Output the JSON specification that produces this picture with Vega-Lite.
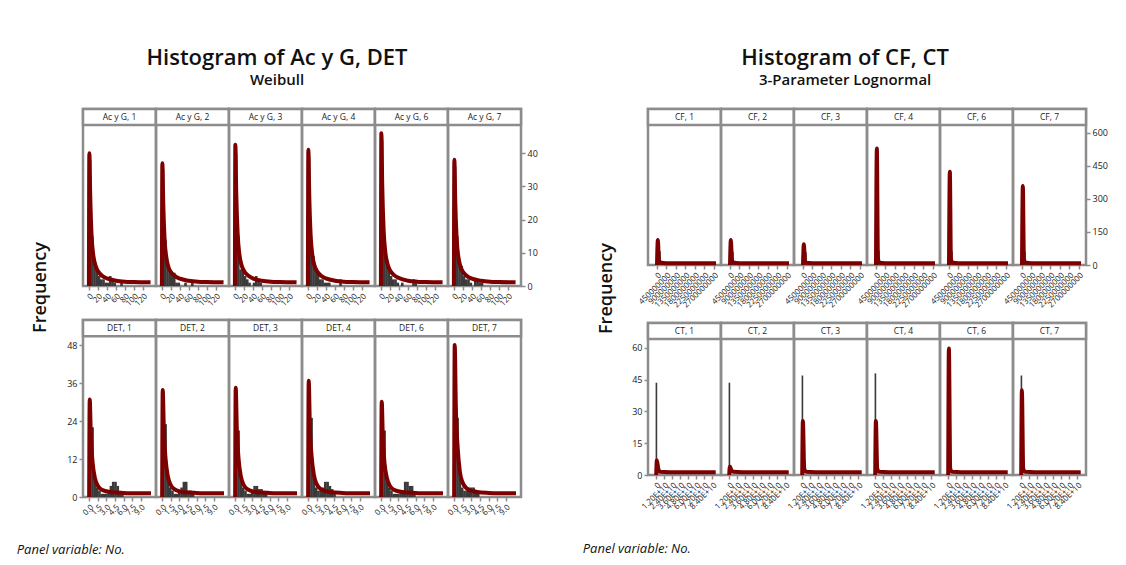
{
  "$schema": "https://vega.github.io/schema/vega-lite/v6.json",
  "padding": {"left": 16, "top": 46, "right": 0, "bottom": 0},
  "autosize": {"type": "pad"},
  "spacing": 44,
  "datasets": {
    "acyg": [
      {"p":"Ac y G, 1","t":"s"},
      {"p":"Ac y G, 1","t":"h","x":2.5,"n":38},{"p":"Ac y G, 1","t":"h","x":7.5,"n":15},{"p":"Ac y G, 1","t":"h","x":12.5,"n":7},{"p":"Ac y G, 1","t":"h","x":17.5,"n":6},{"p":"Ac y G, 1","t":"h","x":22.5,"n":3},{"p":"Ac y G, 1","t":"h","x":27.5,"n":2},{"p":"Ac y G, 1","t":"h","x":32.5,"n":2},{"p":"Ac y G, 1","t":"h","x":37.5,"n":1},{"p":"Ac y G, 1","t":"h","x":42.5,"n":1},{"p":"Ac y G, 1","t":"h","x":47.5,"n":3},{"p":"Ac y G, 1","t":"h","x":52.5,"n":2},{"p":"Ac y G, 1","t":"h","x":57.5,"n":1},{"p":"Ac y G, 1","t":"h","x":72.5,"n":1},
      {"p":"Ac y G, 1","t":"f","x":0,"n":0},{"p":"Ac y G, 1","t":"f","x":1,"n":40},{"p":"Ac y G, 1","t":"f","x":3,"n":27},{"p":"Ac y G, 1","t":"f","x":6,"n":15},{"p":"Ac y G, 1","t":"f","x":10,"n":9},{"p":"Ac y G, 1","t":"f","x":15,"n":6},{"p":"Ac y G, 1","t":"f","x":20,"n":4.5},{"p":"Ac y G, 1","t":"f","x":30,"n":3},{"p":"Ac y G, 1","t":"f","x":40,"n":2.3},{"p":"Ac y G, 1","t":"f","x":60,"n":1.6},{"p":"Ac y G, 1","t":"f","x":80,"n":1.3},{"p":"Ac y G, 1","t":"f","x":100,"n":1.2},{"p":"Ac y G, 1","t":"f","x":137,"n":1.1},
      {"p":"Ac y G, 2","t":"s"},
      {"p":"Ac y G, 2","t":"h","x":2.5,"n":35},{"p":"Ac y G, 2","t":"h","x":7.5,"n":14},{"p":"Ac y G, 2","t":"h","x":12.5,"n":6},{"p":"Ac y G, 2","t":"h","x":17.5,"n":4},{"p":"Ac y G, 2","t":"h","x":22.5,"n":4},{"p":"Ac y G, 2","t":"h","x":27.5,"n":4},{"p":"Ac y G, 2","t":"h","x":32.5,"n":1},{"p":"Ac y G, 2","t":"h","x":37.5,"n":1},{"p":"Ac y G, 2","t":"h","x":52.5,"n":1},{"p":"Ac y G, 2","t":"h","x":67.5,"n":1},
      {"p":"Ac y G, 2","t":"f","x":0,"n":0},{"p":"Ac y G, 2","t":"f","x":1,"n":37},{"p":"Ac y G, 2","t":"f","x":3,"n":25},{"p":"Ac y G, 2","t":"f","x":6,"n":14},{"p":"Ac y G, 2","t":"f","x":10,"n":8.5},{"p":"Ac y G, 2","t":"f","x":15,"n":5.5},{"p":"Ac y G, 2","t":"f","x":20,"n":4.2},{"p":"Ac y G, 2","t":"f","x":30,"n":2.9},{"p":"Ac y G, 2","t":"f","x":40,"n":2.2},{"p":"Ac y G, 2","t":"f","x":60,"n":1.6},{"p":"Ac y G, 2","t":"f","x":80,"n":1.3},{"p":"Ac y G, 2","t":"f","x":100,"n":1.2},{"p":"Ac y G, 2","t":"f","x":137,"n":1.1},
      {"p":"Ac y G, 3","t":"s"},
      {"p":"Ac y G, 3","t":"h","x":2.5,"n":40},{"p":"Ac y G, 3","t":"h","x":7.5,"n":15},{"p":"Ac y G, 3","t":"h","x":12.5,"n":5},{"p":"Ac y G, 3","t":"h","x":17.5,"n":5},{"p":"Ac y G, 3","t":"h","x":22.5,"n":3},{"p":"Ac y G, 3","t":"h","x":27.5,"n":2},{"p":"Ac y G, 3","t":"h","x":32.5,"n":1},{"p":"Ac y G, 3","t":"h","x":42.5,"n":1},{"p":"Ac y G, 3","t":"h","x":47.5,"n":3},{"p":"Ac y G, 3","t":"h","x":52.5,"n":2},{"p":"Ac y G, 3","t":"h","x":57.5,"n":1},
      {"p":"Ac y G, 3","t":"f","x":0,"n":0},{"p":"Ac y G, 3","t":"f","x":1,"n":42.5},{"p":"Ac y G, 3","t":"f","x":3,"n":28},{"p":"Ac y G, 3","t":"f","x":6,"n":16},{"p":"Ac y G, 3","t":"f","x":10,"n":9.5},{"p":"Ac y G, 3","t":"f","x":15,"n":6.2},{"p":"Ac y G, 3","t":"f","x":20,"n":4.6},{"p":"Ac y G, 3","t":"f","x":30,"n":3.1},{"p":"Ac y G, 3","t":"f","x":40,"n":2.3},{"p":"Ac y G, 3","t":"f","x":60,"n":1.6},{"p":"Ac y G, 3","t":"f","x":80,"n":1.3},{"p":"Ac y G, 3","t":"f","x":100,"n":1.2},{"p":"Ac y G, 3","t":"f","x":137,"n":1.1},
      {"p":"Ac y G, 4","t":"s"},
      {"p":"Ac y G, 4","t":"h","x":2.5,"n":39},{"p":"Ac y G, 4","t":"h","x":7.5,"n":12},{"p":"Ac y G, 4","t":"h","x":12.5,"n":9},{"p":"Ac y G, 4","t":"h","x":17.5,"n":5.6},{"p":"Ac y G, 4","t":"h","x":22.5,"n":4},{"p":"Ac y G, 4","t":"h","x":27.5,"n":2},{"p":"Ac y G, 4","t":"h","x":32.5,"n":2},{"p":"Ac y G, 4","t":"h","x":37.5,"n":1},{"p":"Ac y G, 4","t":"h","x":42.5,"n":1},{"p":"Ac y G, 4","t":"h","x":47.5,"n":1},{"p":"Ac y G, 4","t":"h","x":72.5,"n":2},
      {"p":"Ac y G, 4","t":"f","x":0,"n":0},{"p":"Ac y G, 4","t":"f","x":1,"n":41},{"p":"Ac y G, 4","t":"f","x":3,"n":27.5},{"p":"Ac y G, 4","t":"f","x":6,"n":15.5},{"p":"Ac y G, 4","t":"f","x":10,"n":9.2},{"p":"Ac y G, 4","t":"f","x":15,"n":6},{"p":"Ac y G, 4","t":"f","x":20,"n":4.5},{"p":"Ac y G, 4","t":"f","x":30,"n":3},{"p":"Ac y G, 4","t":"f","x":40,"n":2.3},{"p":"Ac y G, 4","t":"f","x":60,"n":1.6},{"p":"Ac y G, 4","t":"f","x":80,"n":1.3},{"p":"Ac y G, 4","t":"f","x":100,"n":1.2},{"p":"Ac y G, 4","t":"f","x":137,"n":1.1},
      {"p":"Ac y G, 6","t":"s"},
      {"p":"Ac y G, 6","t":"h","x":2.5,"n":44},{"p":"Ac y G, 6","t":"h","x":7.5,"n":12},{"p":"Ac y G, 6","t":"h","x":12.5,"n":7},{"p":"Ac y G, 6","t":"h","x":17.5,"n":5},{"p":"Ac y G, 6","t":"h","x":22.5,"n":3},{"p":"Ac y G, 6","t":"h","x":27.5,"n":2},{"p":"Ac y G, 6","t":"h","x":32.5,"n":2},{"p":"Ac y G, 6","t":"h","x":37.5,"n":1},{"p":"Ac y G, 6","t":"h","x":47.5,"n":1},{"p":"Ac y G, 6","t":"h","x":72.5,"n":2},{"p":"Ac y G, 6","t":"h","x":77.5,"n":1},
      {"p":"Ac y G, 6","t":"f","x":0,"n":0},{"p":"Ac y G, 6","t":"f","x":1,"n":46},{"p":"Ac y G, 6","t":"f","x":3,"n":30},{"p":"Ac y G, 6","t":"f","x":6,"n":17},{"p":"Ac y G, 6","t":"f","x":10,"n":10},{"p":"Ac y G, 6","t":"f","x":15,"n":6.5},{"p":"Ac y G, 6","t":"f","x":20,"n":4.8},{"p":"Ac y G, 6","t":"f","x":30,"n":3.2},{"p":"Ac y G, 6","t":"f","x":40,"n":2.4},{"p":"Ac y G, 6","t":"f","x":60,"n":1.6},{"p":"Ac y G, 6","t":"f","x":80,"n":1.3},{"p":"Ac y G, 6","t":"f","x":100,"n":1.2},{"p":"Ac y G, 6","t":"f","x":137,"n":1.1},
      {"p":"Ac y G, 7","t":"s"},
      {"p":"Ac y G, 7","t":"h","x":2.5,"n":36},{"p":"Ac y G, 7","t":"h","x":7.5,"n":15},{"p":"Ac y G, 7","t":"h","x":12.5,"n":7},{"p":"Ac y G, 7","t":"h","x":17.5,"n":6},{"p":"Ac y G, 7","t":"h","x":22.5,"n":3},{"p":"Ac y G, 7","t":"h","x":27.5,"n":2},{"p":"Ac y G, 7","t":"h","x":32.5,"n":2},{"p":"Ac y G, 7","t":"h","x":37.5,"n":1},{"p":"Ac y G, 7","t":"h","x":47.5,"n":2},{"p":"Ac y G, 7","t":"h","x":52.5,"n":2},{"p":"Ac y G, 7","t":"h","x":57.5,"n":1},{"p":"Ac y G, 7","t":"h","x":62.5,"n":1},
      {"p":"Ac y G, 7","t":"f","x":0,"n":0},{"p":"Ac y G, 7","t":"f","x":1,"n":38},{"p":"Ac y G, 7","t":"f","x":3,"n":25.5},{"p":"Ac y G, 7","t":"f","x":6,"n":14.5},{"p":"Ac y G, 7","t":"f","x":10,"n":8.7},{"p":"Ac y G, 7","t":"f","x":15,"n":5.7},{"p":"Ac y G, 7","t":"f","x":20,"n":4.3},{"p":"Ac y G, 7","t":"f","x":30,"n":2.9},{"p":"Ac y G, 7","t":"f","x":40,"n":2.2},{"p":"Ac y G, 7","t":"f","x":60,"n":1.6},{"p":"Ac y G, 7","t":"f","x":80,"n":1.3},{"p":"Ac y G, 7","t":"f","x":100,"n":1.2},{"p":"Ac y G, 7","t":"f","x":137,"n":1.1}
    ],
    "det": [
      {"p":"DET, 1","t":"s"},
      {"p":"DET, 1","t":"h","x":0.2,"n":29},{"p":"DET, 1","t":"h","x":0.6,"n":22},{"p":"DET, 1","t":"h","x":1.0,"n":5},{"p":"DET, 1","t":"h","x":1.4,"n":3},{"p":"DET, 1","t":"h","x":1.8,"n":2},{"p":"DET, 1","t":"h","x":2.2,"n":1},{"p":"DET, 1","t":"h","x":2.6,"n":1},{"p":"DET, 1","t":"h","x":3.0,"n":1},{"p":"DET, 1","t":"h","x":3.4,"n":2},{"p":"DET, 1","t":"h","x":3.8,"n":3.5},{"p":"DET, 1","t":"h","x":4.2,"n":4.8},{"p":"DET, 1","t":"h","x":4.6,"n":4.8},{"p":"DET, 1","t":"h","x":5.0,"n":3.5},{"p":"DET, 1","t":"h","x":5.4,"n":1},{"p":"DET, 1","t":"h","x":5.8,"n":1},
      {"p":"DET, 1","t":"f","x":0,"n":0},{"p":"DET, 1","t":"f","x":0.1,"n":30.8},{"p":"DET, 1","t":"f","x":0.3,"n":19},{"p":"DET, 1","t":"f","x":0.6,"n":11},{"p":"DET, 1","t":"f","x":1.0,"n":6},{"p":"DET, 1","t":"f","x":1.5,"n":3.6},{"p":"DET, 1","t":"f","x":2.2,"n":2.3},{"p":"DET, 1","t":"f","x":3,"n":1.8},{"p":"DET, 1","t":"f","x":4,"n":1.5},{"p":"DET, 1","t":"f","x":6,"n":1.3},{"p":"DET, 1","t":"f","x":8,"n":1.2},{"p":"DET, 1","t":"f","x":10.8,"n":1.2},
      {"p":"DET, 2","t":"s"},
      {"p":"DET, 2","t":"h","x":0.2,"n":32},{"p":"DET, 2","t":"h","x":0.6,"n":23},{"p":"DET, 2","t":"h","x":1.0,"n":6},{"p":"DET, 2","t":"h","x":1.4,"n":3},{"p":"DET, 2","t":"h","x":1.8,"n":2},{"p":"DET, 2","t":"h","x":2.2,"n":1},{"p":"DET, 2","t":"h","x":2.6,"n":1},{"p":"DET, 2","t":"h","x":3.0,"n":2},{"p":"DET, 2","t":"h","x":3.4,"n":3},{"p":"DET, 2","t":"h","x":3.8,"n":4.8},{"p":"DET, 2","t":"h","x":4.2,"n":4.8},{"p":"DET, 2","t":"h","x":4.6,"n":2},{"p":"DET, 2","t":"h","x":5.0,"n":2},{"p":"DET, 2","t":"h","x":5.4,"n":1},
      {"p":"DET, 2","t":"f","x":0,"n":0},{"p":"DET, 2","t":"f","x":0.1,"n":33.8},{"p":"DET, 2","t":"f","x":0.3,"n":21},{"p":"DET, 2","t":"f","x":0.6,"n":12},{"p":"DET, 2","t":"f","x":1.0,"n":6.5},{"p":"DET, 2","t":"f","x":1.5,"n":3.8},{"p":"DET, 2","t":"f","x":2.2,"n":2.4},{"p":"DET, 2","t":"f","x":3,"n":1.8},{"p":"DET, 2","t":"f","x":4,"n":1.5},{"p":"DET, 2","t":"f","x":6,"n":1.3},{"p":"DET, 2","t":"f","x":8,"n":1.2},{"p":"DET, 2","t":"f","x":10.8,"n":1.2},
      {"p":"DET, 3","t":"s"},
      {"p":"DET, 3","t":"h","x":0.2,"n":33},{"p":"DET, 3","t":"h","x":0.6,"n":21},{"p":"DET, 3","t":"h","x":1.0,"n":5},{"p":"DET, 3","t":"h","x":1.4,"n":3},{"p":"DET, 3","t":"h","x":1.8,"n":2},{"p":"DET, 3","t":"h","x":2.2,"n":1},{"p":"DET, 3","t":"h","x":2.6,"n":1},{"p":"DET, 3","t":"h","x":3.0,"n":2},{"p":"DET, 3","t":"h","x":3.4,"n":3.5},{"p":"DET, 3","t":"h","x":3.8,"n":3.5},{"p":"DET, 3","t":"h","x":4.2,"n":2.5},{"p":"DET, 3","t":"h","x":4.6,"n":2.5},{"p":"DET, 3","t":"h","x":5.0,"n":1},{"p":"DET, 3","t":"h","x":5.4,"n":1},
      {"p":"DET, 3","t":"f","x":0,"n":0},{"p":"DET, 3","t":"f","x":0.1,"n":34.5},{"p":"DET, 3","t":"f","x":0.3,"n":21},{"p":"DET, 3","t":"f","x":0.6,"n":12},{"p":"DET, 3","t":"f","x":1.0,"n":6.5},{"p":"DET, 3","t":"f","x":1.5,"n":3.8},{"p":"DET, 3","t":"f","x":2.2,"n":2.4},{"p":"DET, 3","t":"f","x":3,"n":1.8},{"p":"DET, 3","t":"f","x":4,"n":1.5},{"p":"DET, 3","t":"f","x":6,"n":1.3},{"p":"DET, 3","t":"f","x":8,"n":1.2},{"p":"DET, 3","t":"f","x":10.8,"n":1.2},
      {"p":"DET, 4","t":"s"},
      {"p":"DET, 4","t":"h","x":0.2,"n":35},{"p":"DET, 4","t":"h","x":0.6,"n":25},{"p":"DET, 4","t":"h","x":1.0,"n":6},{"p":"DET, 4","t":"h","x":1.4,"n":3},{"p":"DET, 4","t":"h","x":1.8,"n":2},{"p":"DET, 4","t":"h","x":2.2,"n":2},{"p":"DET, 4","t":"h","x":2.6,"n":3},{"p":"DET, 4","t":"h","x":3.0,"n":4.8},{"p":"DET, 4","t":"h","x":3.4,"n":4.8},{"p":"DET, 4","t":"h","x":3.8,"n":3.5},{"p":"DET, 4","t":"h","x":4.2,"n":2.5},{"p":"DET, 4","t":"h","x":4.6,"n":1},
      {"p":"DET, 4","t":"f","x":0,"n":0},{"p":"DET, 4","t":"f","x":0.1,"n":36.7},{"p":"DET, 4","t":"f","x":0.3,"n":22},{"p":"DET, 4","t":"f","x":0.6,"n":13},{"p":"DET, 4","t":"f","x":1.0,"n":7},{"p":"DET, 4","t":"f","x":1.5,"n":4},{"p":"DET, 4","t":"f","x":2.2,"n":2.5},{"p":"DET, 4","t":"f","x":3,"n":1.9},{"p":"DET, 4","t":"f","x":4,"n":1.5},{"p":"DET, 4","t":"f","x":6,"n":1.3},{"p":"DET, 4","t":"f","x":8,"n":1.2},{"p":"DET, 4","t":"f","x":10.8,"n":1.2},
      {"p":"DET, 6","t":"s"},
      {"p":"DET, 6","t":"h","x":0.2,"n":29},{"p":"DET, 6","t":"h","x":0.6,"n":21},{"p":"DET, 6","t":"h","x":1.0,"n":5},{"p":"DET, 6","t":"h","x":1.4,"n":3},{"p":"DET, 6","t":"h","x":1.8,"n":2},{"p":"DET, 6","t":"h","x":2.2,"n":1},{"p":"DET, 6","t":"h","x":2.6,"n":1},{"p":"DET, 6","t":"h","x":3.0,"n":1},{"p":"DET, 6","t":"h","x":3.4,"n":2},{"p":"DET, 6","t":"h","x":3.8,"n":2},{"p":"DET, 6","t":"h","x":4.2,"n":4.8},{"p":"DET, 6","t":"h","x":4.6,"n":4.8},{"p":"DET, 6","t":"h","x":5.0,"n":3.5},{"p":"DET, 6","t":"h","x":5.4,"n":3.5},{"p":"DET, 6","t":"h","x":5.8,"n":1},
      {"p":"DET, 6","t":"f","x":0,"n":0},{"p":"DET, 6","t":"f","x":0.1,"n":30.1},{"p":"DET, 6","t":"f","x":0.3,"n":18.5},{"p":"DET, 6","t":"f","x":0.6,"n":10.5},{"p":"DET, 6","t":"f","x":1.0,"n":6},{"p":"DET, 6","t":"f","x":1.5,"n":3.6},{"p":"DET, 6","t":"f","x":2.2,"n":2.3},{"p":"DET, 6","t":"f","x":3,"n":1.8},{"p":"DET, 6","t":"f","x":4,"n":1.5},{"p":"DET, 6","t":"f","x":6,"n":1.3},{"p":"DET, 6","t":"f","x":8,"n":1.2},{"p":"DET, 6","t":"f","x":10.8,"n":1.2},
      {"p":"DET, 7","t":"s"},
      {"p":"DET, 7","t":"h","x":0.2,"n":46},{"p":"DET, 7","t":"h","x":0.6,"n":25},{"p":"DET, 7","t":"h","x":1.0,"n":6},{"p":"DET, 7","t":"h","x":1.4,"n":3},{"p":"DET, 7","t":"h","x":1.8,"n":2},{"p":"DET, 7","t":"h","x":2.2,"n":2},{"p":"DET, 7","t":"h","x":2.6,"n":3},{"p":"DET, 7","t":"h","x":3.0,"n":3},{"p":"DET, 7","t":"h","x":3.4,"n":3},{"p":"DET, 7","t":"h","x":3.8,"n":2},{"p":"DET, 7","t":"h","x":4.2,"n":1},
      {"p":"DET, 7","t":"f","x":0,"n":0},{"p":"DET, 7","t":"f","x":0.1,"n":48},{"p":"DET, 7","t":"f","x":0.3,"n":28},{"p":"DET, 7","t":"f","x":0.6,"n":16},{"p":"DET, 7","t":"f","x":1.0,"n":8},{"p":"DET, 7","t":"f","x":1.5,"n":4.5},{"p":"DET, 7","t":"f","x":2.2,"n":2.7},{"p":"DET, 7","t":"f","x":3,"n":2},{"p":"DET, 7","t":"f","x":4,"n":1.6},{"p":"DET, 7","t":"f","x":6,"n":1.3},{"p":"DET, 7","t":"f","x":8,"n":1.2},{"p":"DET, 7","t":"f","x":10.8,"n":1.2}
    ],
    "cf": [
      {"p":"CF, 1","t":"s"},
      {"p":"CF, 1","t":"h","x":4e7,"n":100},{"p":"CF, 1","t":"h","x":1.2e8,"n":62},{"p":"CF, 1","t":"h","x":2.0e8,"n":6},{"p":"CF, 1","t":"h","x":2.8e8,"n":3},{"p":"CF, 1","t":"h","x":5e8,"n":1},{"p":"CF, 1","t":"h","x":9e8,"n":1},
      {"p":"CF, 1","t":"f","x":0,"n":0},{"p":"CF, 1","t":"f","x":4e7,"n":114},{"p":"CF, 1","t":"f","x":9e7,"n":25},{"p":"CF, 1","t":"f","x":1.5e8,"n":12},{"p":"CF, 1","t":"f","x":3e8,"n":9},{"p":"CF, 1","t":"f","x":6e8,"n":8},{"p":"CF, 1","t":"f","x":1.2e9,"n":8},{"p":"CF, 1","t":"f","x":2e9,"n":8},{"p":"CF, 1","t":"f","x":2.8e9,"n":8},
      {"p":"CF, 2","t":"s"},
      {"p":"CF, 2","t":"h","x":4e7,"n":100},{"p":"CF, 2","t":"h","x":1.2e8,"n":60},{"p":"CF, 2","t":"h","x":2.0e8,"n":6},{"p":"CF, 2","t":"h","x":2.8e8,"n":3},{"p":"CF, 2","t":"h","x":6e8,"n":1},
      {"p":"CF, 2","t":"f","x":0,"n":0},{"p":"CF, 2","t":"f","x":4e7,"n":114},{"p":"CF, 2","t":"f","x":9e7,"n":25},{"p":"CF, 2","t":"f","x":1.5e8,"n":12},{"p":"CF, 2","t":"f","x":3e8,"n":9},{"p":"CF, 2","t":"f","x":6e8,"n":8},{"p":"CF, 2","t":"f","x":1.2e9,"n":8},{"p":"CF, 2","t":"f","x":2e9,"n":8},{"p":"CF, 2","t":"f","x":2.8e9,"n":8},
      {"p":"CF, 3","t":"s"},
      {"p":"CF, 3","t":"h","x":4e7,"n":85},{"p":"CF, 3","t":"h","x":1.2e8,"n":58},{"p":"CF, 3","t":"h","x":2.0e8,"n":5},{"p":"CF, 3","t":"h","x":2.8e8,"n":3},{"p":"CF, 3","t":"h","x":7e8,"n":1},
      {"p":"CF, 3","t":"f","x":0,"n":0},{"p":"CF, 3","t":"f","x":4e7,"n":94},{"p":"CF, 3","t":"f","x":9e7,"n":22},{"p":"CF, 3","t":"f","x":1.5e8,"n":11},{"p":"CF, 3","t":"f","x":3e8,"n":9},{"p":"CF, 3","t":"f","x":6e8,"n":8},{"p":"CF, 3","t":"f","x":1.2e9,"n":8},{"p":"CF, 3","t":"f","x":2e9,"n":8},{"p":"CF, 3","t":"f","x":2.8e9,"n":8},
      {"p":"CF, 4","t":"s"},
      {"p":"CF, 4","t":"h","x":4e7,"n":480},{"p":"CF, 4","t":"h","x":1.2e8,"n":65},{"p":"CF, 4","t":"h","x":2.0e8,"n":8},{"p":"CF, 4","t":"h","x":2.8e8,"n":3},{"p":"CF, 4","t":"h","x":8e8,"n":1},
      {"p":"CF, 4","t":"f","x":0,"n":0},{"p":"CF, 4","t":"f","x":4e7,"n":530},{"p":"CF, 4","t":"f","x":9e7,"n":30},{"p":"CF, 4","t":"f","x":1.5e8,"n":13},{"p":"CF, 4","t":"f","x":3e8,"n":9},{"p":"CF, 4","t":"f","x":6e8,"n":8},{"p":"CF, 4","t":"f","x":1.2e9,"n":8},{"p":"CF, 4","t":"f","x":2e9,"n":8},{"p":"CF, 4","t":"f","x":2.8e9,"n":8},
      {"p":"CF, 6","t":"s"},
      {"p":"CF, 6","t":"h","x":4e7,"n":390},{"p":"CF, 6","t":"h","x":1.2e8,"n":62},{"p":"CF, 6","t":"h","x":2.0e8,"n":7},{"p":"CF, 6","t":"h","x":2.8e8,"n":3},{"p":"CF, 6","t":"h","x":9e8,"n":1},
      {"p":"CF, 6","t":"f","x":0,"n":0},{"p":"CF, 6","t":"f","x":4e7,"n":424},{"p":"CF, 6","t":"f","x":9e7,"n":28},{"p":"CF, 6","t":"f","x":1.5e8,"n":12},{"p":"CF, 6","t":"f","x":3e8,"n":9},{"p":"CF, 6","t":"f","x":6e8,"n":8},{"p":"CF, 6","t":"f","x":1.2e9,"n":8},{"p":"CF, 6","t":"f","x":2e9,"n":8},{"p":"CF, 6","t":"f","x":2.8e9,"n":8},
      {"p":"CF, 7","t":"s"},
      {"p":"CF, 7","t":"h","x":4e7,"n":330},{"p":"CF, 7","t":"h","x":1.2e8,"n":60},{"p":"CF, 7","t":"h","x":2.0e8,"n":6},{"p":"CF, 7","t":"h","x":2.8e8,"n":3},{"p":"CF, 7","t":"h","x":1.1e9,"n":1},
      {"p":"CF, 7","t":"f","x":0,"n":0},{"p":"CF, 7","t":"f","x":4e7,"n":359},{"p":"CF, 7","t":"f","x":9e7,"n":27},{"p":"CF, 7","t":"f","x":1.5e8,"n":12},{"p":"CF, 7","t":"f","x":3e8,"n":9},{"p":"CF, 7","t":"f","x":6e8,"n":8},{"p":"CF, 7","t":"f","x":1.2e9,"n":8},{"p":"CF, 7","t":"f","x":2e9,"n":8},{"p":"CF, 7","t":"f","x":2.8e9,"n":8}
    ],
    "ct": [
      {"p":"CT, 1","t":"s"},
      {"p":"CT, 1","t":"h","x":3e8,"n":43.6},
      {"p":"CT, 1","t":"f","x":0,"n":0},{"p":"CT, 1","t":"f","x":1e9,"n":7},{"p":"CT, 1","t":"f","x":3e9,"n":3},{"p":"CT, 1","t":"f","x":6e9,"n":1.5},{"p":"CT, 1","t":"f","x":2e10,"n":1.3},{"p":"CT, 1","t":"f","x":5e10,"n":1.3},{"p":"CT, 1","t":"f","x":8.9e10,"n":1.3},
      {"p":"CT, 2","t":"s"},
      {"p":"CT, 2","t":"h","x":3e8,"n":43.6},
      {"p":"CT, 2","t":"f","x":0,"n":0},{"p":"CT, 2","t":"f","x":1e9,"n":4},{"p":"CT, 2","t":"f","x":3e9,"n":2.5},{"p":"CT, 2","t":"f","x":6e9,"n":1.5},{"p":"CT, 2","t":"f","x":2e10,"n":1.3},{"p":"CT, 2","t":"f","x":5e10,"n":1.3},{"p":"CT, 2","t":"f","x":8.9e10,"n":1.3},
      {"p":"CT, 3","t":"s"},
      {"p":"CT, 3","t":"h","x":3e8,"n":47},
      {"p":"CT, 3","t":"f","x":0,"n":0},{"p":"CT, 3","t":"f","x":1e9,"n":25.5},{"p":"CT, 3","t":"f","x":3e9,"n":3},{"p":"CT, 3","t":"f","x":6e9,"n":1.5},{"p":"CT, 3","t":"f","x":2e10,"n":1.3},{"p":"CT, 3","t":"f","x":5e10,"n":1.3},{"p":"CT, 3","t":"f","x":8.9e10,"n":1.3},
      {"p":"CT, 4","t":"s"},
      {"p":"CT, 4","t":"h","x":3e8,"n":48},
      {"p":"CT, 4","t":"f","x":0,"n":0},{"p":"CT, 4","t":"f","x":1e9,"n":25.5},{"p":"CT, 4","t":"f","x":3e9,"n":3},{"p":"CT, 4","t":"f","x":6e9,"n":1.5},{"p":"CT, 4","t":"f","x":2e10,"n":1.3},{"p":"CT, 4","t":"f","x":5e10,"n":1.3},{"p":"CT, 4","t":"f","x":8.9e10,"n":1.3},
      {"p":"CT, 6","t":"s"},
      {"p":"CT, 6","t":"h","x":3e8,"n":58},
      {"p":"CT, 6","t":"f","x":0,"n":0},{"p":"CT, 6","t":"f","x":1e9,"n":59.8},{"p":"CT, 6","t":"f","x":3e9,"n":3},{"p":"CT, 6","t":"f","x":6e9,"n":1.5},{"p":"CT, 6","t":"f","x":2e10,"n":1.3},{"p":"CT, 6","t":"f","x":5e10,"n":1.3},{"p":"CT, 6","t":"f","x":8.9e10,"n":1.3},
      {"p":"CT, 7","t":"s"},
      {"p":"CT, 7","t":"h","x":3e8,"n":47},
      {"p":"CT, 7","t":"f","x":0,"n":0},{"p":"CT, 7","t":"f","x":1e9,"n":40},{"p":"CT, 7","t":"f","x":3e9,"n":3},{"p":"CT, 7","t":"f","x":6e9,"n":1.5},{"p":"CT, 7","t":"f","x":2e10,"n":1.3},{"p":"CT, 7","t":"f","x":5e10,"n":1.3},{"p":"CT, 7","t":"f","x":8.9e10,"n":1.3}
    ]
  },
  "hconcat": [
    {
      "title": {"text": "Histogram of Ac y G, DET", "subtitle": "Weibull", "anchor": "middle", "offset": 18},
      "vconcat": [{
        "title": {"text": "Panel variable: No.", "orient": "bottom", "anchor": "start", "fontSize": 13, "fontStyle": "italic", "fontWeight": "normal", "offset": 27, "dx": -15},
        "vconcat": [{
          "title": {"text": "Frequency", "orient": "left", "anchor": "middle", "fontSize": 18, "offset": 17, "dx": 24},
          "bounds": "flush",
          "spacing": 211,
          "vconcat": [
            {
              "data": {"name": "acyg"},
              "bounds": "flush",
              "spacing": 0,
              "facet": {"column": {"field": "p", "type": "nominal", "header": null}},
              "spec": {
                "width": 73, "height": 177,
                "layer": [
                  {"transform": [{"filter": "datum.t === 'h'"}], "mark": {"type": "bar", "size": 2.6, "color": "#3a3a3a"},
                   "encoding": {
                     "x": {"field": "x", "type": "quantitative", "scale": {"domain": [-2, 138], "nice": false, "zero": false}, "axis": {"values": [0, 20, 40, 60, 80, 100, 120], "tickCount": 20, "labelAngle": -45, "labelFontSize": 8, "labelOverlap": false, "title": null}},
                     "y": {"field": "n", "type": "quantitative", "scale": {"domain": [0, 53.3], "nice": false}, "axis": {"orient": "right", "values": [0, 10, 20, 30, 40], "tickCount": 20, "labelOverlap": false, "title": null}}}},
                  {"transform": [{"filter": "datum.t === 'f'"}], "mark": {"type": "line", "color": "#7d0000", "strokeWidth": 4, "interpolate": "monotone"},
                   "encoding": {"x": {"field": "x", "type": "quantitative"}, "y": {"field": "n", "type": "quantitative"}}},
                  {"transform": [{"filter": "datum.t === 's'"}], "mark": {"type": "rect", "fill": "#ffffff", "stroke": "#8c8c8c", "strokeWidth": 2.5},
                   "encoding": {"y": {"datum": 48.5}, "y2": {"datum": 53.3}}},
                  {"transform": [{"filter": "datum.t === 's'"}], "mark": {"type": "text", "fontSize": 8.5, "color": "#222222"},
                   "encoding": {"y": {"datum": 50.9}, "text": {"field": "p", "type": "nominal"}}}
                ]
              }
            },
            {
              "data": {"name": "det"},
              "bounds": "flush",
              "spacing": 0,
              "facet": {"column": {"field": "p", "type": "nominal", "header": null}},
              "spec": {
                "width": 73, "height": 177,
                "layer": [
                  {"transform": [{"filter": "datum.t === 'h'"}], "mark": {"type": "bar", "size": 2.6, "color": "#3a3a3a"},
                   "encoding": {
                     "x": {"field": "x", "type": "quantitative", "scale": {"domain": [-0.2, 10.8], "nice": false, "zero": false}, "axis": {"values": [0, 1.5, 3, 4.5, 6, 7.5, 9], "tickCount": 20, "format": ".1f", "labelAngle": -45, "labelFontSize": 8, "labelOverlap": false, "title": null}},
                     "y": {"field": "n", "type": "quantitative", "scale": {"domain": [0, 55.9], "nice": false}, "axis": {"orient": "left", "values": [0, 12, 24, 36, 48], "tickCount": 20, "labelOverlap": false, "title": null}}}},
                  {"transform": [{"filter": "datum.t === 'f'"}], "mark": {"type": "line", "color": "#7d0000", "strokeWidth": 4, "interpolate": "monotone"},
                   "encoding": {"x": {"field": "x", "type": "quantitative"}, "y": {"field": "n", "type": "quantitative"}}},
                  {"transform": [{"filter": "datum.t === 's'"}], "mark": {"type": "rect", "fill": "#ffffff", "stroke": "#8c8c8c", "strokeWidth": 2.5},
                   "encoding": {"y": {"datum": 50.8}, "y2": {"datum": 55.9}}},
                  {"transform": [{"filter": "datum.t === 's'"}], "mark": {"type": "text", "fontSize": 8.5, "color": "#222222"},
                   "encoding": {"y": {"datum": 53.35}, "text": {"field": "p", "type": "nominal"}}}
                ]
              }
            }
          ]
        }]
      }]
    },
    {
      "title": {"text": "Histogram of CF, CT", "subtitle": "3-Parameter Lognormal", "anchor": "middle", "offset": 18},
      "vconcat": [{
        "title": {"text": "Panel variable: No.", "orient": "bottom", "anchor": "start", "fontSize": 13, "fontStyle": "italic", "fontWeight": "normal", "offset": 32, "dx": -15},
        "vconcat": [{
          "title": {"text": "Frequency", "orient": "left", "anchor": "middle", "fontSize": 18, "offset": 16, "dx": 20},
          "bounds": "flush",
          "spacing": 214,
          "vconcat": [
            {
              "data": {"name": "cf"},
              "bounds": "flush",
              "spacing": 0,
              "facet": {"column": {"field": "p", "type": "nominal", "header": null}},
              "spec": {
                "width": 73, "height": 156,
                "layer": [
                  {"transform": [{"filter": "datum.t === 'h'"}], "mark": {"type": "bar", "size": 2.4, "color": "#3a3a3a"},
                   "encoding": {
                     "x": {"field": "x", "type": "quantitative", "scale": {"domain": [-190000000, 2800000000], "nice": false, "zero": false}, "axis": {"values": [0, 450000000, 900000000, 1350000000, 1800000000, 2250000000, 2700000000], "tickCount": 20, "format": "d", "labelAngle": -45, "labelFontSize": 8, "labelOverlap": false, "title": null}},
                     "y": {"field": "n", "type": "quantitative", "scale": {"domain": [0, 709], "nice": false}, "axis": {"orient": "right", "values": [0, 150, 300, 450, 600], "tickCount": 20, "labelOverlap": false, "title": null}}}},
                  {"transform": [{"filter": "datum.t === 'f'"}], "mark": {"type": "line", "color": "#7d0000", "strokeWidth": 4, "interpolate": "monotone"},
                   "encoding": {"x": {"field": "x", "type": "quantitative"}, "y": {"field": "n", "type": "quantitative"}}},
                  {"transform": [{"filter": "datum.t === 's'"}], "mark": {"type": "rect", "fill": "#ffffff", "stroke": "#8c8c8c", "strokeWidth": 2.5},
                   "encoding": {"y": {"datum": 636}, "y2": {"datum": 709}}},
                  {"transform": [{"filter": "datum.t === 's'"}], "mark": {"type": "text", "fontSize": 8.5, "color": "#222222"},
                   "encoding": {"y": {"datum": 672.5}, "text": {"field": "p", "type": "nominal"}}}
                ]
              }
            },
            {
              "data": {"name": "ct"},
              "bounds": "flush",
              "spacing": 0,
              "facet": {"column": {"field": "p", "type": "nominal", "header": null}},
              "spec": {
                "width": 73, "height": 152,
                "layer": [
                  {"transform": [{"filter": "datum.t === 'h'"}], "mark": {"type": "bar", "size": 1.6, "color": "#3a3a3a"},
                   "encoding": {
                     "x": {"field": "x", "type": "quantitative", "scale": {"domain": [-4800000000, 89400000000], "nice": false, "zero": false}, "axis": {"values": [0, 12000000000, 24000000000, 36000000000, 48000000000, 60000000000, 72000000000, 84000000000], "tickCount": 20, "labelExpr": "datum.value == 0 ? '0' : replace(format(datum.value, '.2e'), 'e', 'E')", "labelAngle": -45, "labelFontSize": 8, "labelOverlap": false, "title": null}},
                     "y": {"field": "n", "type": "quantitative", "scale": {"domain": [0, 71.8], "nice": false}, "axis": {"orient": "left", "values": [0, 15, 30, 45, 60], "tickCount": 20, "labelOverlap": false, "title": null}}}},
                  {"transform": [{"filter": "datum.t === 'f'"}], "mark": {"type": "line", "color": "#7d0000", "strokeWidth": 4, "interpolate": "monotone"},
                   "encoding": {"x": {"field": "x", "type": "quantitative"}, "y": {"field": "n", "type": "quantitative"}}},
                  {"transform": [{"filter": "datum.t === 's'"}], "mark": {"type": "rect", "fill": "#ffffff", "stroke": "#8c8c8c", "strokeWidth": 2.5},
                   "encoding": {"y": {"datum": 64.2}, "y2": {"datum": 71.8}}},
                  {"transform": [{"filter": "datum.t === 's'"}], "mark": {"type": "text", "fontSize": 8.5, "color": "#222222"},
                   "encoding": {"y": {"datum": 68}, "text": {"field": "p", "type": "nominal"}}}
                ]
              }
            }
          ]
        }]
      }]
    }
  ],
  "config": {
    "font": "Open Sans",
    "view": {"stroke": "#8c8c8c", "strokeWidth": 2.5},
    "axis": {"grid": false, "domain": false, "labelFontSize": 9, "labelColor": "#222222", "tickColor": "#8c8c8c", "tickSize": 4, "tickWidth": 1.5, "labelOverlap": false, "labelFlush": false, "labelPadding": 2},
    "title": {"fontSize": 22, "fontWeight": 600, "color": "#111111", "subtitleFontSize": 15, "subtitleFontWeight": 600, "subtitleColor": "#111111", "subtitlePadding": 3}
  }
}
